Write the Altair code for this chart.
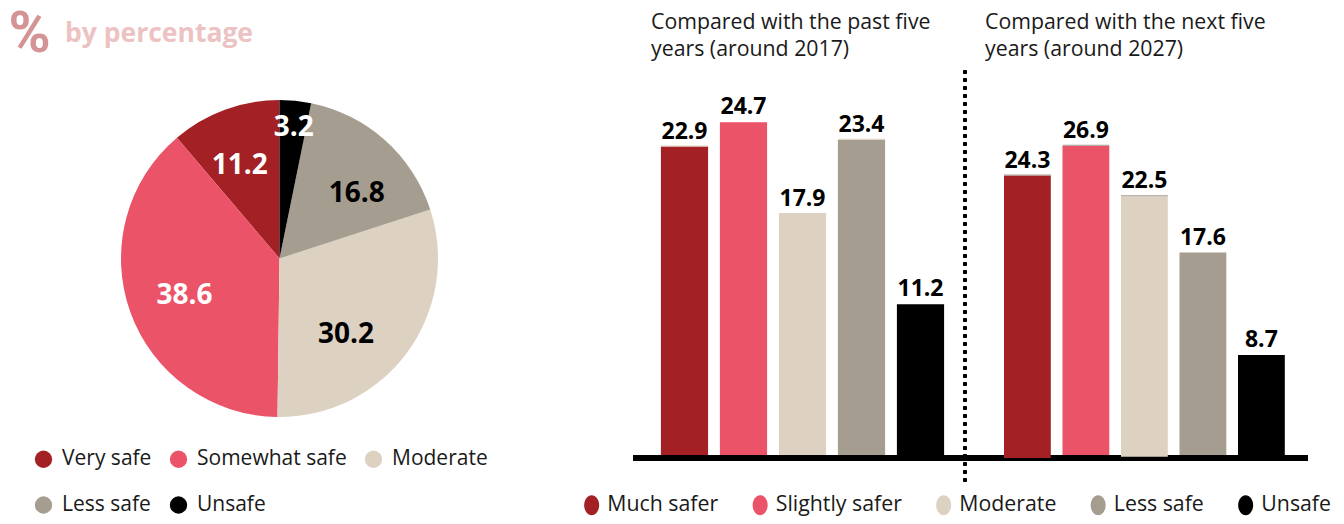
import altair as alt
import pandas as pd

FONT = "Open Sans"
pie_cats = ["Very safe", "Somewhat safe", "Moderate", "Less safe", "Unsafe"]
pie_vals = [11.2, 38.6, 30.2, 16.8, 3.2]
pie_colors = ["#A32024", "#EB5368", "#DDD1C1", "#A59D8F", "#000000"]

bar_cats = ["Much safer", "Slightly safer", "Moderate", "Less safe", "Unsafe"]
past_vals = [22.9, 24.7, 17.9, 23.4, 11.2]
next_vals = [24.3, 26.9, 22.5, 17.6, 8.7]
next_base = [-0.25, 0.0, -0.15, 0.0, 0.0]
past_edges = ["#DDD1C1", "", "#DDD1C1", "#DDD1C1", ""]
next_edges = ["#A59D8F", "#A59D8F", "#A59D8F", "", ""]

past_title = "Compared with the past five\nyears (around 2017)"
next_title = "Compared with the next five\nyears (around 2027)"

H = 506
ZERO = 447
CX, CY = 271.5, 250.5

pie_df = pd.DataFrame({"cat": pie_cats, "value": pie_vals, "rank": range(len(pie_cats))})
theta_scale = alt.Scale(domain=[0, 100], range=[0, 6.283185307])


def stacked():
    return alt.Chart(pie_df).transform_stack(
        stack="value", groupby=[], sort=[alt.SortField("rank", order="descending")], as_=["v0", "v1"]
    ).transform_calculate(mid="(datum.v0 + datum.v1) / 2")


arc = stacked().mark_arc(outerRadius=158.5, stroke=None).encode(
    x=alt.value(CX), y=alt.value(CY),
    theta=alt.Theta("v0:Q", scale=theta_scale, stack=None),
    theta2="v1:Q",
    color=alt.Color("cat:N", scale=alt.Scale(domain=pie_cats, range=pie_colors),
                    legend=alt.Legend(title=None, orient="none", legendX=25, legendY=440.5, columns=3,
                                      direction="horizontal",
                                      gridAlign="each", symbolType="circle", symbolSize=300,
                                      labelFont=FONT, labelFontSize=21, labelColor="#1a1a1a",
                                      labelLimit=300, labelOffset=8, columnPadding=16, rowPadding=24,
                                      symbolStrokeWidth=0, symbolOpacity=1)),
)


def pie_label(cat, color, radius, dx, dy):
    return stacked().transform_filter(alt.datum.cat == cat).mark_text(
        font=FONT, fontWeight="bold", fontSize=28, color=color, radius=radius, dx=dx, dy=dy,
        align="center", baseline="middle"
    ).encode(
        x=alt.value(CX), y=alt.value(CY),
        theta=alt.Theta("mid:Q", scale=theta_scale, stack=None),
        text=alt.Text("value:Q", format=".1f"),
    )


header_pct = alt.Chart(pd.DataFrame({"t": ["%"]})).mark_text(
    font="Roboto", fontWeight="bold", fontSize=57, color="#D49496", align="left",
    baseline="alphabetic"
).encode(x=alt.value(0.5), y=alt.value(44), text="t:N")
header_txt = alt.Chart(pd.DataFrame({"t": ["by percentage"]})).mark_text(
    font=FONT, fontWeight="bold", fontSize=26.5, color="#ECC2C2", align="left", baseline="alphabetic"
).encode(x=alt.value(57), y=alt.value(33.5), text="t:N")

pie_panel = alt.layer(
    arc,
    pie_label("Unsafe", "white", 132, 1, 1),
    pie_label("Less safe", "black", 101, 10, 11),
    pie_label("Moderate", "black", 100, -14, 17.5),
    pie_label("Somewhat safe", "white", 101, 0, 3.5),
    pie_label("Very safe", "white", 101, -5, 2),
    header_pct, header_txt,
).properties(width=625, height=H)


def bars(vals, base, edges, title, width, x_range, top, title_x, legend, divider):
    df = pd.DataFrame({"cat": bar_cats, "value": vals, "base": base, "edge": edges})
    df["edge_top"] = df["value"] + 1.0 * top / ZERO
    x = alt.X("cat:N", sort=None, axis=None,
              scale=alt.Scale(domain=bar_cats, range=x_range, paddingInner=0.2, paddingOuter=0.1))
    yscale = alt.Scale(domain=[0, top], range=[ZERO, 0])
    line = alt.Chart(df).mark_rule(color="black", strokeWidth=6).encode(
        x=alt.value(0), x2=alt.value(width if width < 340 else 343), y=alt.value(ZERO + 3))
    body = alt.Chart(df).mark_bar().encode(
        x=x, y=alt.Y("value:Q", axis=None, scale=yscale), y2="base:Q",
        color=alt.Color("cat:N", scale=alt.Scale(domain=bar_cats, range=pie_colors), legend=legend),
    )
    edge = alt.Chart(df[df["edge"] != ""]).mark_bar().encode(
        x=x, y=alt.Y("edge_top:Q", axis=None, scale=yscale), y2="value:Q",
        color=alt.Color("edge:N", scale=None),
    )
    labels = alt.Chart(df).mark_text(
        font=FONT, fontWeight="bold", fontSize=23, color="black", dy=-8, align="center", baseline="alphabetic"
    ).encode(x=x, y=alt.Y("value:Q", axis=None, scale=yscale), text=alt.Text("value:Q", format=".1f"))
    heading = alt.Chart(pd.DataFrame({"t": [title]})).mark_text(
        font=FONT, fontSize=21.3, color="#1a1a1a", align="left", baseline="alphabetic",
        lineBreak="\n", lineHeight=26.5
    ).encode(x=alt.value(title_x), y=alt.value(21), text="t:N")
    layers = [line, body, edge, labels, heading]
    if divider:
        layers.insert(3, alt.Chart(df).mark_rule(
            color="black", strokeWidth=4, strokeDash=[0, 8], strokeCap="round"
        ).encode(x=alt.value(width), y=alt.value(64), y2=alt.value(474)))
    return alt.layer(*layers).properties(width=width, height=H)


bar_legend = alt.Legend(
    title=None, orient="none", legendX=-52, legendY=486.5, columns=5, symbolSize=400, direction="horizontal",
    symbolType="M -0.75 0 A 0.75 1 0 1 0 0.75 0 A 0.75 1 0 1 0 -0.75 0 Z",
    labelFont=FONT, labelFontSize=21.3, labelColor="#1a1a1a", labelLimit=300, labelOffset=5,
    columnPadding=30.5, symbolStrokeWidth=0, symbolOpacity=1, gridAlign="each",
)

past_panel = bars(past_vals, [0] * 5, past_edges, past_title, 332, [22, 317], ZERO / 13.47, 18, bar_legend, True)
next_panel = bars(next_vals, next_base, next_edges, next_title, 370, [33.15, 325.65], ZERO / 11.5, 20, None, False)

chart = alt.hconcat(pie_panel, past_panel, next_panel, spacing=0, bounds="flush").resolve_scale(
    color="independent"
).properties(padding={"left": 0, "right": 0, "top": -2, "bottom": 0}).configure_view(stroke=None)

chart.save("out.html", embed_options={"renderer": "svg", "actions": False})
